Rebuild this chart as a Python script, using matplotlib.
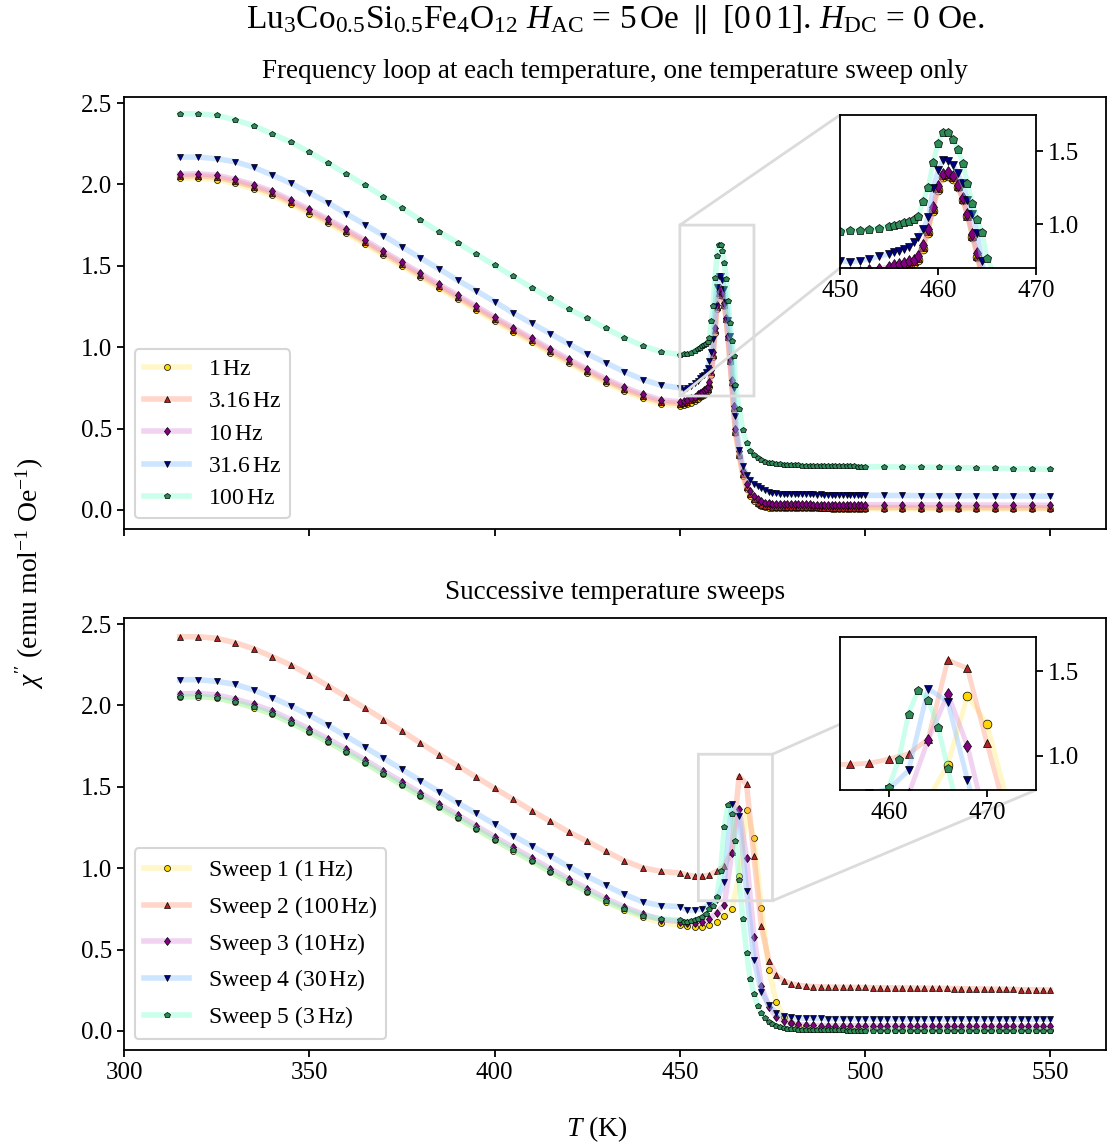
import matplotlib
matplotlib.use("Agg")
import matplotlib.pyplot as plt

plt.rcParams["font.family"] = ["Liberation Serif", "DejaVu Serif"]
plt.rcParams["mathtext.fontset"] = "custom"
plt.rcParams["mathtext.rm"] = "Liberation Serif"
plt.rcParams["mathtext.it"] = "Liberation Serif:italic"
plt.rcParams["mathtext.bf"] = "Liberation Serif:bold"

# ---------------- frequency loop, single temperature sweep ----------------
T_loop = [315, 320, 325, 330, 335, 340, 345, 350, 355, 360, 365, 370, 375, 380,
          385, 390, 395, 400, 405, 410, 415, 420, 425, 430, 435, 440, 445, 450,
          451, 452, 453, 454, 455,
          455.5, 456, 456.5, 457, 457.5, 458, 458.5, 459, 459.5, 460,
          460.5, 461, 461.5, 462, 462.5, 463, 463.5, 464, 464.5, 465,
          466, 467, 468, 469, 470, 471, 472, 473, 474, 475, 476, 477, 478, 479, 480,
          481, 482, 483, 484, 485, 486, 487, 488, 489, 490, 491, 492, 493, 494, 495,
          496, 497, 498, 499, 500,
          505, 510, 515, 520, 525, 530, 535, 540, 545, 550]

chi_1Hz = [2.037, 2.040, 2.030, 2.006, 1.972, 1.932, 1.878, 1.821, 1.761, 1.699, 1.633, 1.565, 1.497, 1.429,
           1.361, 1.295, 1.228, 1.160, 1.095, 1.030, 0.964, 0.901, 0.841, 0.781, 0.729, 0.686, 0.650, 0.640,
           0.642, 0.648, 0.657, 0.667, 0.682,
           0.692, 0.700, 0.709, 0.718, 0.731, 0.757, 0.830, 0.940, 1.090, 1.235,
           1.322, 1.330, 1.312, 1.255, 1.165, 1.055, 0.910, 0.775, 0.615, 0.470,
           0.330, 0.210, 0.130, 0.085, 0.055, 0.037, 0.026, 0.019, 0.015, 0.013, 0.012, 0.011, 0.011, 0.010, 0.010,
           0.010, 0.010, 0.009, 0.009, 0.009, 0.009, 0.009, 0.009, 0.009, 0.009, 0.008, 0.008, 0.008, 0.008, 0.008,
           0.008, 0.008, 0.008, 0.008, 0.008,
           0.008, 0.008, 0.008, 0.008, 0.007, 0.007, 0.007, 0.007, 0.007, 0.007]

chi_3Hz = [2.050, 2.054, 2.044, 2.019, 1.986, 1.946, 1.892, 1.835, 1.775, 1.712, 1.646, 1.578, 1.510, 1.442,
           1.374, 1.308, 1.241, 1.173, 1.108, 1.043, 0.977, 0.914, 0.854, 0.794, 0.742, 0.699, 0.663, 0.654,
           0.657, 0.664, 0.673, 0.683, 0.698,
           0.708, 0.715, 0.724, 0.733, 0.746, 0.772, 0.845, 0.955, 1.105, 1.248,
           1.335, 1.345, 1.322, 1.262, 1.172, 1.060, 0.918, 0.785, 0.625, 0.480,
           0.340, 0.220, 0.140, 0.095, 0.065, 0.045, 0.033, 0.026, 0.022, 0.020, 0.019, 0.018, 0.018, 0.017, 0.017,
           0.017, 0.016, 0.016, 0.016, 0.016, 0.016, 0.016, 0.015, 0.015, 0.015, 0.015, 0.015, 0.015, 0.015, 0.015,
           0.015, 0.015, 0.015, 0.015, 0.015,
           0.015, 0.015, 0.015, 0.014, 0.014, 0.014, 0.014, 0.013, 0.013, 0.013]

chi_10Hz = [2.062, 2.066, 2.056, 2.031, 1.998, 1.958, 1.904, 1.847, 1.787, 1.724, 1.658, 1.590, 1.522, 1.454,
            1.386, 1.320, 1.253, 1.185, 1.120, 1.055, 0.989, 0.926, 0.866, 0.806, 0.754, 0.711, 0.675, 0.665,
            0.668, 0.675, 0.685, 0.695, 0.710,
            0.720, 0.727, 0.736, 0.745, 0.758, 0.785, 0.860, 0.970, 1.120, 1.260,
            1.345, 1.356, 1.330, 1.270, 1.180, 1.070, 0.930, 0.800, 0.640, 0.500,
            0.360, 0.240, 0.160, 0.115, 0.085, 0.065, 0.052, 0.045, 0.041, 0.038, 0.037, 0.036, 0.036, 0.035, 0.035,
            0.035, 0.034, 0.034, 0.034, 0.034, 0.033, 0.033, 0.033, 0.033, 0.033, 0.033, 0.032, 0.032, 0.032, 0.032,
            0.032, 0.032, 0.032, 0.032, 0.032,
            0.032, 0.031, 0.031, 0.031, 0.030, 0.030, 0.030, 0.029, 0.029, 0.029]

chi_31Hz = [2.168, 2.168, 2.158, 2.139, 2.105, 2.058, 2.007, 1.949, 1.888, 1.820, 1.753, 1.686, 1.617, 1.548,
            1.481, 1.412, 1.347, 1.280, 1.210, 1.147, 1.084, 1.020, 0.959, 0.904, 0.849, 0.801, 0.766, 0.750,
            0.740, 0.750, 0.760, 0.780, 0.795,
            0.808, 0.820, 0.830, 0.845, 0.875, 0.915, 0.970, 1.050, 1.250, 1.370,
            1.440, 1.435, 1.410, 1.355, 1.280, 1.170, 1.070, 0.940, 0.750, 0.580,
            0.370, 0.270, 0.215, 0.185, 0.162, 0.147, 0.135, 0.122, 0.113, 0.107, 0.103, 0.100, 0.099, 0.098, 0.097,
            0.098, 0.096, 0.097, 0.095, 0.096, 0.095, 0.094, 0.095, 0.093, 0.094, 0.093, 0.092, 0.093, 0.091, 0.092,
            0.091, 0.090, 0.091, 0.090, 0.090,
            0.089, 0.089, 0.088, 0.088, 0.087, 0.087, 0.086, 0.086, 0.085, 0.085]

chi_100Hz = [2.434, 2.434, 2.424, 2.397, 2.360, 2.311, 2.260, 2.199, 2.133, 2.064, 1.996, 1.925, 1.855, 1.781,
             1.709, 1.642, 1.572, 1.503, 1.435, 1.366, 1.300, 1.235, 1.177, 1.116, 1.058, 1.009, 0.971, 0.955,
             0.958, 0.960, 0.967, 0.977, 0.991,
             0.995, 1.005, 1.014, 1.021, 1.033, 1.056, 1.162, 1.255, 1.426, 1.560,
             1.630, 1.630, 1.588, 1.519, 1.421, 1.282, 1.148, 1.037, 0.944, 0.770,
             0.620, 0.490, 0.410, 0.365, 0.335, 0.318, 0.306, 0.297, 0.290, 0.286, 0.283, 0.280, 0.278, 0.277, 0.276,
             0.275, 0.274, 0.273, 0.273, 0.272, 0.271, 0.271, 0.270, 0.270, 0.269, 0.269, 0.268, 0.268, 0.268, 0.267,
             0.267, 0.267, 0.266, 0.266, 0.266,
             0.265, 0.264, 0.263, 0.262, 0.260, 0.258, 0.256, 0.254, 0.252, 0.250]

loop_labels = [r"1$\,$Hz", r"3.16$\,$Hz", r"10$\,$Hz", r"31.6$\,$Hz", r"100$\,$Hz"]

# ---------------- successive temperature sweeps ----------------
T_sweep = [315, 320, 325, 330, 335, 340, 345, 350, 355, 360, 365, 370, 375, 380,
           385, 390, 395, 400, 405, 410, 415, 420, 425, 430, 435, 440, 445,
           450, 452, 454, 456, 458, 460, 462, 464, 466, 468, 470, 472, 474, 476, 478, 480,
           482, 484, 486, 488, 490, 492, 494, 496, 498, 500, 502, 504, 506, 508, 510,
           512, 514, 516, 518, 520, 522, 524, 526, 528, 530, 532, 534, 536, 538, 540,
           542, 544, 546, 548, 550]

T_sweep5 = [315, 320, 325, 330, 335, 340, 345, 350, 355, 360, 365, 370, 375, 380,
            385, 390, 395, 400, 405, 410, 415, 420, 425, 430, 435, 440, 445,
            450, 451, 452, 453, 454, 455, 456, 457, 458, 459, 460,
            461, 462, 463, 464, 465, 466, 467, 468, 469, 470,
            471, 472, 473, 474, 475, 476, 477, 478, 479, 480,
            481, 482, 483, 484, 485, 486, 487, 488, 489, 490,
            491, 492, 493, 494, 495, 496, 497, 498, 499, 500,
            502, 504, 506, 508, 510, 512, 514, 516, 518, 520, 522, 524, 526, 528, 530,
            532, 534, 536, 538, 540, 542, 544, 546, 548, 550]

sweep1 = [2.050, 2.054, 2.044, 2.020, 1.986, 1.946, 1.892, 1.835, 1.775, 1.712, 1.646, 1.578, 1.510, 1.442,
          1.374, 1.308, 1.241, 1.173, 1.108, 1.043, 0.977, 0.914, 0.854, 0.795, 0.742, 0.698, 0.666,
          0.651, 0.645, 0.637, 0.641, 0.649, 0.671, 0.706, 0.747, 0.950, 1.355, 1.188, 0.754, 0.375, 0.180, 0.088, 0.050,
          0.032, 0.022, 0.016, 0.013, 0.011, 0.010, 0.010, 0.009, 0.009, 0.009, 0.009, 0.008, 0.008, 0.008, 0.008,
          0.008, 0.008, 0.008, 0.007, 0.007, 0.007, 0.007, 0.007, 0.007, 0.007, 0.007, 0.007, 0.006, 0.006, 0.006,
          0.006, 0.006, 0.006, 0.006, 0.006]

sweep2 = [2.422, 2.422, 2.412, 2.385, 2.348, 2.299, 2.248, 2.187, 2.121, 2.052, 1.984, 1.913, 1.843, 1.769,
          1.697, 1.630, 1.560, 1.491, 1.423, 1.354, 1.288, 1.223, 1.165, 1.104, 1.046, 1.002, 0.980,
          0.970, 0.958, 0.950, 0.951, 0.957, 0.982, 1.012, 1.100, 1.565, 1.515, 1.075, 0.645, 0.432, 0.344, 0.309, 0.290,
          0.280, 0.275, 0.272, 0.271, 0.270, 0.269, 0.268, 0.268, 0.267, 0.267, 0.266, 0.266, 0.265, 0.265, 0.264,
          0.264, 0.263, 0.263, 0.262, 0.262, 0.261, 0.260, 0.260, 0.259, 0.258, 0.258, 0.257, 0.256, 0.256, 0.255,
          0.254, 0.253, 0.253, 0.252, 0.251]

sweep3 = [2.070, 2.074, 2.064, 2.039, 2.006, 1.966, 1.912, 1.855, 1.795, 1.732, 1.666, 1.598, 1.530, 1.462,
          1.394, 1.328, 1.261, 1.193, 1.128, 1.063, 0.997, 0.934, 0.874, 0.814, 0.762, 0.718, 0.684,
          0.672, 0.665, 0.665, 0.670, 0.690, 0.727, 0.774, 1.095, 1.366, 1.060, 0.580, 0.276, 0.149, 0.088, 0.062, 0.048,
          0.040, 0.036, 0.034, 0.033, 0.033, 0.032, 0.032, 0.032, 0.032, 0.031, 0.031, 0.031, 0.031, 0.031, 0.031,
          0.030, 0.030, 0.030, 0.030, 0.030, 0.030, 0.030, 0.029, 0.029, 0.029, 0.029, 0.029, 0.029, 0.029, 0.028,
          0.028, 0.028, 0.028, 0.028, 0.028]

sweep4 = [2.158, 2.158, 2.148, 2.129, 2.095, 2.048, 1.997, 1.939, 1.878, 1.810, 1.743, 1.676, 1.607, 1.538,
          1.471, 1.402, 1.337, 1.270, 1.200, 1.137, 1.074, 1.010, 0.949, 0.894, 0.839, 0.793, 0.770,
          0.764, 0.743, 0.743, 0.750, 0.780, 0.805, 0.916, 1.395, 1.320, 0.860, 0.436, 0.241, 0.160, 0.113, 0.092, 0.084,
          0.080, 0.078, 0.077, 0.077, 0.076, 0.076, 0.076, 0.076, 0.075, 0.075, 0.075, 0.075, 0.075, 0.075, 0.074,
          0.074, 0.074, 0.074, 0.074, 0.074, 0.074, 0.073, 0.073, 0.073, 0.073, 0.073, 0.073, 0.073, 0.072, 0.072,
          0.072, 0.072, 0.072, 0.072, 0.072]

sweep5 = [2.052, 2.056, 2.046, 2.021, 1.988, 1.948, 1.894, 1.837, 1.777, 1.714, 1.648, 1.580, 1.512, 1.444,
          1.376, 1.310, 1.243, 1.175, 1.110, 1.045, 0.979, 0.916, 0.856, 0.797, 0.748, 0.708, 0.688,
          0.682, 0.672, 0.672, 0.676, 0.680, 0.690, 0.700, 0.720, 0.750, 0.770, 0.820,
          0.980, 1.250, 1.390, 1.330, 1.170, 0.930, 0.690, 0.480, 0.320, 0.227,
          0.154, 0.109, 0.078, 0.057, 0.043, 0.033, 0.025, 0.020, 0.015, 0.012,
          0.010, 0.008, 0.007, 0.006, 0.005, 0.005, 0.004, 0.004, 0.004, 0.003,
          0.003, 0.003, 0.003, 0.003, 0.002, 0.002, 0.002, 0.002, 0.002, 0.002,
          0.002, 0.002, 0.002, 0.002, 0.002, 0.002, 0.001, 0.001, 0.001, 0.001, 0.001, 0.001, 0.001, 0.001, 0.001,
          0.001, 0.001, 0.001, 0.001, 0.001, 0.001, 0.001, 0.001, 0.001, 0.001]

sweep_labels = [r"Sweep 1 (1$\,$Hz)", r"Sweep 2 (100$\,$Hz)", r"Sweep 3 (10$\,$Hz)",
                r"Sweep 4 (30$\,$Hz)", r"Sweep 5 (3$\,$Hz)"]

# ---------------- styling ----------------
markers = ["o", "^", "d", "v", "p"]
face_colors = ["#ffd700", "#b22222", "#800080", "#000080", "#2e8b57"]
line_colors = [(1.00, 0.93, 0.45, 0.40), (1.00, 0.62, 0.50, 0.42), (0.86, 0.55, 0.86, 0.38),
               (0.55, 0.76, 1.00, 0.42), (0.45, 1.00, 0.80, 0.38)]

loop_series = [(T_loop, chi_1Hz), (T_loop, chi_3Hz), (T_loop, chi_10Hz),
               (T_loop, chi_31Hz), (T_loop, chi_100Hz)]
sweep_series = [(T_sweep, sweep1), (T_sweep, sweep2), (T_sweep, sweep3),
                (T_sweep, sweep4), (T_sweep5, sweep5)]

W, H = 1110, 1147
fig = plt.figure(figsize=(W / 100, H / 100), dpi=100)


def px_axes(left, top, right, bottom):
    return fig.add_axes([left / W, 1 - bottom / H, (right - left) / W, (bottom - top) / H])


ax_top = px_axes(124, 97, 1106, 529)
ax_bot = px_axes(124, 618, 1106, 1050)
in_top = px_axes(840, 115, 1036, 268)
in_bot = px_axes(840, 637, 1036, 790)

TICK_FS = 18
LEG_FS = 17


def draw(ax, series, labels, ms, lw):
    for (t, y), mk, fc, lc, lab in zip(series, markers, face_colors, line_colors, labels):
        ax.plot(t, y, color=lc, lw=lw, marker=mk, markersize=ms, markerfacecolor=fc,
                markeredgecolor="black", markeredgewidth=0.5, label=lab)


def style(ax):
    for s in ax.spines.values():
        s.set_linewidth(1.3)
    ax.tick_params(direction="out", length=5, width=1.3, labelsize=TICK_FS)


for ax, series, labels, ins, ilim, ixt in [
        (ax_top, loop_series, loop_labels, in_top, ((450, 470), (0.70, 1.75)), [450, 460, 470]),
        (ax_bot, sweep_series, sweep_labels, in_bot, ((455, 475), (0.80, 1.70)), [460, 470])]:
    draw(ax, series, labels, 4.3, 4.0)
    ax.set_xlim(300, 565)
    ax.set_ylim(-0.117, 2.537)
    ax.set_xticks([300, 350, 400, 450, 500, 550])
    ax.set_yticks([0.0, 0.5, 1.0, 1.5, 2.0, 2.5])
    style(ax)
    leg = ax.legend(loc="lower left", fontsize=LEG_FS, handlelength=1.9,
                    labelspacing=0.45, borderaxespad=0.45, edgecolor="0.8",
                    framealpha=0.8, fancybox=True)
    leg.get_frame().set_linewidth(1.5)

    draw(ins, series, labels, 6.3, 3.5)
    ins.set_xlim(*ilim[0])
    ins.set_ylim(*ilim[1])
    ins.set_xticks(ixt)
    ins.set_yticks([1.0, 1.5])
    ins.yaxis.tick_right()
    style(ins)
    ax.indicate_inset_zoom(ins, edgecolor="0.86", alpha=1.0, linewidth=2.0)

ax_top.tick_params(labelbottom=False)
ax_top.set_title("Frequency loop at each temperature, one temperature sweep only",
                 fontsize=19.5, pad=14)
ax_bot.set_title("Successive temperature sweeps", fontsize=19.5, pad=14)

fig.text(615 / W, 1 - 19 / H,
         r"Lu$_3$Co$_{0.5}$Si$_{0.5}$Fe$_4$O$_{12}$ $H_{\mathrm{AC}}$ = 5$\,$Oe $\parallel$ [0$\,$0$\,$1]. "
         r"$H_{\mathrm{DC}}$ = 0 Oe.",
         ha="center", va="center", fontsize=24)
fig.text(30 / W, 0.5, r"$\chi''$ (emu mol$^{-1}$ Oe$^{-1}$)", rotation=90,
         ha="center", va="center", fontsize=20)
fig.text(597 / W, 1 - 1129 / H, r"$T$ (K)", ha="center", va="center", fontsize=20)

fig.savefig("out.png", dpi=100)
